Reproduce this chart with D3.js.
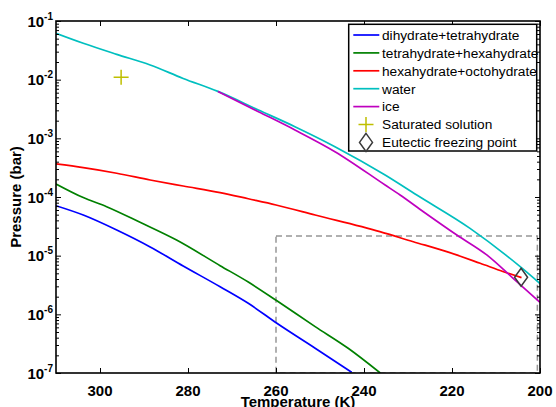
<!DOCTYPE html>
<html>
<head>
<meta charset="utf-8">
<script src="https://cdn.jsdelivr.net/npm/d3@7/dist/d3.min.js"></script>
<style>
  html, body { margin: 0; padding: 0; background: #fff; }
  svg { display: block; }
  text { font-family: "Liberation Sans", Arial, Helvetica, sans-serif; }
</style>
</head>
<body>
<svg id="chart" width="556" height="407"></svg>
<script>
// ---- Data ----
const waterT = [310, 303.8, 296.2, 288.6, 281.1, 273.2, 264.0, 255.7, 246.6, 235.2, 228.0, 215.9, 204.5, 199.8];
const waterP = [6.17e-2, 4.17e-2, 2.70e-2, 1.78e-2, 1.05e-2, 6.31e-3, 3.04e-3, 1.58e-3, 7.21e-4, 2.37e-4, 1.08e-4, 2.92e-5, 6.49e-6, 3.25e-6];

const iceT = [273.2, 264.0, 255.7, 246.6, 235.2, 231.8, 226.5, 218.9, 212.1, 206.1, 200];
const iceP = [6.31e-3, 2.85e-3, 1.39e-3, 5.93e-4, 1.60e-4, 1.08e-4, 5.62e-5, 2.25e-5, 1.03e-5, 4.11e-6, 1.60e-6];

const hexOctT = [310, 303.8, 296.2, 288.6, 281.1, 272.7, 266.3, 260.0, 251.1, 236.4, 228.8, 221.2, 213.6, 208.3, 204.2];
const hexOctP = [3.66e-4, 3.16e-4, 2.54e-4, 1.95e-4, 1.54e-4, 1.19e-4, 9.33e-5, 7.31e-5, 4.93e-5, 2.57e-5, 1.73e-5, 1.17e-5, 7.41e-6, 5.33e-6, 4.22e-6];

const tetHexT = [310, 303.8, 298.5, 290.9, 282.6, 272.7, 266.3, 259.8, 251.1, 243.6, 236.3];
const tetHexP = [1.67e-4, 9.77e-5, 6.84e-5, 3.71e-5, 1.85e-5, 6.76e-6, 3.55e-6, 1.70e-6, 6.17e-7, 2.64e-7, 1.0e-7];

const diTetT = [310, 303.8, 296.2, 288.6, 281.1, 272.7, 266.3, 259.8, 251.1, 242.8];
const diTetP = [7.11e-5, 4.93e-5, 2.74e-5, 1.41e-5, 6.67e-6, 2.95e-6, 1.54e-6, 7.03e-7, 2.64e-7, 1.03e-7];

const saturatedT = [295.2];
const saturatedP = [1.1e-2];
const eutecticT = [204.3];
const eutecticP = [4.28e-6];

// dashed region (T range, P range)
const boxT = [260, 200.6];
const boxP = [1e-7, 2.16e-5];

const xTicks = [300, 280, 260, 240, 220, 200];
const yDecades = [-7, -6, -5, -4, -3, -2, -1];

const seriesNames = ["dihydrate+tetrahydrate", "tetrahydrate+hexahydrate", "hexahydrate+octohydrate", "water", "ice"];
const markerNames = ["Saturated solution", "Eutectic freezing point"];

// ---- Build ----
const series = [
  { name: seriesNames[0], T: diTetT, P: diTetP, color: "#0000ff" },
  { name: seriesNames[1], T: tetHexT, P: tetHexP, color: "#008000" },
  { name: seriesNames[2], T: hexOctT, P: hexOctP, color: "#ff0000" },
  { name: seriesNames[3], T: waterT, P: waterP, color: "#00bfbf" },
  { name: seriesNames[4], T: iceT, P: iceP, color: "#bf00bf" }
];

const L = 56, R = 540, T0 = 21, B = 373;
const svg = d3.select("#chart");
const x = d3.scaleLinear().domain([310, 200]).range([L, R]);
const y = d3.scaleLog().domain([1e-7, 1e-1]).range([B, T0]);

svg.append("defs").append("clipPath").attr("id", "plotclip")
  .append("rect").attr("x", L).attr("y", T0).attr("width", R - L).attr("height", B - T0);

const plot = svg.append("g").attr("clip-path", "url(#plotclip)");

// dashed region
plot.append("rect")
  .attr("x", x(boxT[0])).attr("y", y(boxP[1]))
  .attr("width", x(boxT[1]) - x(boxT[0]))
  .attr("height", y(boxP[0]) - y(boxP[1]))
  .attr("fill", "none").attr("stroke", "#969696")
  .attr("stroke-width", 1.5).attr("stroke-dasharray", "6,4");

const line = d3.line().curve(d3.curveMonotoneX)
  .x(d => x(d[0])).y(d => y(d[1]));

series.forEach(s => {
  plot.append("path")
    .datum(s.T.map((t, i) => [t, s.P[i]]))
    .attr("d", line)
    .attr("fill", "none")
    .attr("stroke", s.color)
    .attr("stroke-width", 1.7)
    .attr("stroke-linejoin", "round");
});

// markers
function plus(g, cx, cy, h, color) {
  g.append("path").attr("d", `M${cx - h},${cy}H${cx + h}M${cx},${cy - h}V${cy + h}`)
    .attr("stroke", color).attr("stroke-width", 1.5).attr("fill", "none");
}
function diamond(g, cx, cy, w, h, color) {
  g.append("path").attr("d", `M${cx},${cy - h}L${cx + w},${cy}L${cx},${cy + h}L${cx - w},${cy}Z`)
    .attr("stroke", color).attr("stroke-width", 1.5).attr("fill", "none");
}
saturatedT.forEach((t, i) => plus(plot, x(t), y(saturatedP[i]), 7.5, "#bfbf00"));
eutecticT.forEach((t, i) => diamond(plot, x(t), y(eutecticP[i]), 6.5, 9, "#3a3a3a"));

// ---- Axes frame and ticks ----
const ax = svg.append("g");
const bottomAxis = d3.axisBottom(x).tickValues(xTicks).tickSize(-5).tickFormat("");
const topAxis = d3.axisTop(x).tickValues(xTicks).tickSize(-5).tickFormat("");
ax.append("g").attr("transform", `translate(0,${B})`).call(bottomAxis);
ax.append("g").attr("transform", `translate(0,${T0})`).call(topAxis);

const minorVals = [];
yDecades.slice(0, -1).forEach(d => { for (let k = 2; k <= 9; k++) minorVals.push(k * Math.pow(10, d)); });
const majorVals = yDecades.map(d => Math.pow(10, d));
ax.append("g").attr("transform", `translate(${L},0)`).call(d3.axisLeft(y).tickValues(majorVals).tickSize(-5).tickFormat(""));
ax.append("g").attr("transform", `translate(${L},0)`).call(d3.axisLeft(y).tickValues(minorVals).tickSize(-3).tickFormat(""));
ax.append("g").attr("transform", `translate(${R},0)`).call(d3.axisRight(y).tickValues(majorVals).tickSize(-5).tickFormat(""));
ax.append("g").attr("transform", `translate(${R},0)`).call(d3.axisRight(y).tickValues(minorVals).tickSize(-3).tickFormat(""));
ax.selectAll(".domain").remove();
ax.selectAll(".tick line").attr("stroke", "#000").attr("stroke-width", 1);

svg.append("rect").attr("x", L).attr("y", T0).attr("width", R - L).attr("height", B - T0)
  .attr("fill", "none").attr("stroke", "#000").attr("stroke-width", 1.6);

// x tick labels
svg.append("g").selectAll("text").data(xTicks).join("text")
  .attr("x", d => x(d)).attr("y", 395.5)
  .attr("text-anchor", "middle").attr("font-size", 15).attr("font-weight", "bold")
  .text(d => d);

// y tick labels 10^n
const yl = svg.append("g").selectAll("text").data(yDecades).join("text")
  .attr("x", 53).attr("y", d => y(Math.pow(10, d)) + 5.5)
  .attr("text-anchor", "end").attr("font-weight", "bold");
yl.append("tspan").attr("font-size", 15).text("10");
yl.append("tspan").attr("font-size", 10).attr("dy", -7).text(d => String(d));

// axis titles
svg.append("text").attr("x", (L + R) / 2).attr("y", 406.5)
  .attr("text-anchor", "middle").attr("font-size", 15).attr("font-weight", "bold")
  .text("Temperature (K)");
svg.append("text").attr("transform", `translate(20.5,${(T0 + B) / 2}) rotate(-90)`)
  .attr("text-anchor", "middle").attr("font-size", 15).attr("font-weight", "bold")
  .text("Pressure (bar)");

// ---- Legend ----
const lg = svg.append("g");
lg.append("rect").attr("x", 348.7).attr("y", 24.3).attr("width", 188).attr("height", 126.7)
  .attr("fill", "#fff").attr("stroke", "#000").attr("stroke-width", 1.5);
const rowY = i => 35 + i * 17.9;
series.forEach((s, i) => {
  lg.append("line").attr("x1", 353.3).attr("x2", 379.3).attr("y1", rowY(i)).attr("y2", rowY(i))
    .attr("stroke", s.color).attr("stroke-width", 1.7);
  lg.append("text").attr("x", 382).attr("y", rowY(i) + 4.8).attr("font-size", 13.7).text(s.name);
});
plus(lg, 366, rowY(5), 7.5, "#bfbf00");
lg.append("text").attr("x", 382).attr("y", rowY(5) + 4.8).attr("font-size", 13.7).text(markerNames[0]);
diamond(lg, 366, rowY(6), 6.5, 9, "#3a3a3a");
lg.append("text").attr("x", 382).attr("y", rowY(6) + 4.8).attr("font-size", 13.7).text(markerNames[1]);
</script>
</body>
</html>
